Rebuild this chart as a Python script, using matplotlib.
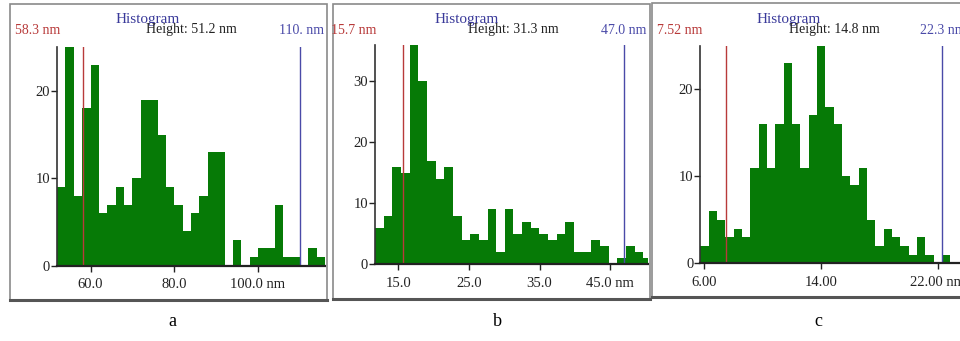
import numpy as np
import matplotlib
matplotlib.use("Agg")
import matplotlib.pyplot as plt
from matplotlib.patches import Rectangle
from matplotlib.lines import Line2D

plt.rcParams['font.family'] = ['Liberation Serif', 'DejaVu Serif']

# --------- Datos ---------
a_counts = [9, 25, 8, 18, 23, 6, 7, 9, 7, 10, 19, 19, 15, 9, 7, 4,
            6, 8, 13, 13, 0, 3, 0, 1, 2, 2, 7, 1, 1, 0, 2, 1]
a_start, a_width = 52.0, 2.0
a_ticks = [60, 80, 100]
a_ticklabels = ["60.0", "80.0", "100.0 nm"]
a_yticks = [0, 10, 20]
a_markers = [58.3, 110.0]
a_texts = ["58.3 nm", "Height: 51.2 nm", "110. nm"]

b_counts = [6, 8, 16, 15, 36, 30, 17, 14, 16, 8, 4, 5, 4, 9, 2, 9,
            5, 7, 6, 5, 4, 5, 7, 2, 2, 4, 3, 0, 1, 3, 2, 1]
b_start, b_width = 11.7, 1.225
b_ticks = [15, 25, 35, 45]
b_ticklabels = ["15.0", "25.0", "35.0", "45.0 nm"]
b_yticks = [0, 10, 20, 30]
b_markers = [15.7, 47.0]
b_texts = ["15.7 nm", "Height: 31.3 nm", "47.0 nm"]

c_counts = [2, 6, 5, 3, 4, 3, 11, 16, 11, 16, 23, 16, 11, 17, 25,
            18, 16, 10, 9, 11, 5, 2, 4, 3, 2, 1, 3, 1, 0, 1]
c_start, c_width = 5.75, 0.5705
c_ticks = [6, 14, 22]
c_ticklabels = ["6.00", "14.00", "22.00 nm"]
c_yticks = [0, 10, 20]
c_markers = [7.52, 22.3]
c_texts = ["7.52 nm", "Height: 14.8 nm", "22.3 nm"]

panel_labels = ["a", "b", "c"]

W, H = 960, 341
GREEN = "#067a06"
RED = "#b83a3a"
BLUE = "#4a4aa8"


def px(x, y):
    # pixeles (desde arriba-izquierda) -> fracción de figura
    return x / W, 1 - y / H


fig = plt.figure(figsize=(W / 100, H / 100), dpi=100)


def panel(box, ax_px, xlim, ylim, counts, start, width, ticks, ticklabels,
          yticks, markers, texts, txt_pos):
    # marco del panel
    x0, y0, x1, y1 = box
    fx0, fy1 = px(x0, y1)
    fx1, fy0 = px(x1, y0)
    fig.patches.append(Rectangle((fx0, fy1), fx1 - fx0, fy0 - fy1,
                                 transform=fig.transFigure, fill=False,
                                 edgecolor="#8a8a8a", lw=1.2))
    fig.lines.append(Line2D([fx0, fx1], [fy1, fy1], transform=fig.transFigure,
                            color="#555555", lw=2.2))

    l, r, b, t = ax_px
    ax = fig.add_axes([l / W, 1 - b / H, (r - l) / W, (b - t) / H])
    edges = start + width * np.arange(len(counts))
    ax.bar(edges, counts, width=width, align="edge", color=GREEN, lw=0)
    ax.axvline(markers[0], color=RED, lw=1)
    ax.axvline(markers[1], color=BLUE, lw=1)
    ax.set_xlim(*xlim)
    ax.set_ylim(*ylim)
    ax.set_xticks(ticks)
    ax.set_xticklabels(ticklabels)
    ax.set_yticks(yticks)
    ax.tick_params(length=4, width=1, labelsize=10.5, colors="#222222")
    ax.tick_params(axis="x", pad=5)
    ax.tick_params(axis="y", pad=1)
    for s in ["top", "right"]:
        ax.spines[s].set_visible(False)
    ax.spines["left"].set_color("#333333")
    ax.spines["left"].set_linewidth(1.2)
    ax.spines["bottom"].set_color("#222222")
    ax.spines["bottom"].set_linewidth(1.6)
    ax.patch.set_alpha(0)

    hx, hgx, lx, rx, rha = txt_pos
    fig.text(*px(hx, 19), "Histogram", color="#3a3a9a", fontsize=11,
             ha="center", va="center")
    fig.text(*px(hgx, 30), texts[1], color="#222222", fontsize=10,
             ha="center", va="center")
    fig.text(*px(lx, 30), texts[0], color=RED, fontsize=10,
             ha="left", va="center")
    fig.text(*px(rx, 30), texts[2], color=BLUE, fontsize=10,
             ha=rha, va="center")
    return ax


panel((10, 4, 327, 300), (57, 325, 266, 47.2), (52, 116), (0, 25),
      a_counts, a_start, a_width, a_ticks, a_ticklabels, a_yticks,
      a_markers, a_texts, (148, 191, 15, 324, "right"))

panel((333, 4, 650, 299), (375, 647.7, 264.3, 44.7), (11.7, 50.3), (0, 36),
      b_counts, b_start, b_width, b_ticks, b_ticklabels, b_yticks,
      b_markers, b_texts, (467, 513, 331, 646, "right"))

panel((652, 3, 965, 297), (700.3, 962.4, 263.3, 45.8), (5.75, 23.7), (0, 25),
      c_counts, c_start, c_width, c_ticks, c_ticklabels, c_yticks,
      c_markers, c_texts, (789, 834, 657, 920, "left"))

for lab, x in zip(panel_labels, [172, 497, 818]):
    fig.text(*px(x, 322), lab, fontsize=13, ha="center", va="center")

fig.savefig("out.png", dpi=100)
